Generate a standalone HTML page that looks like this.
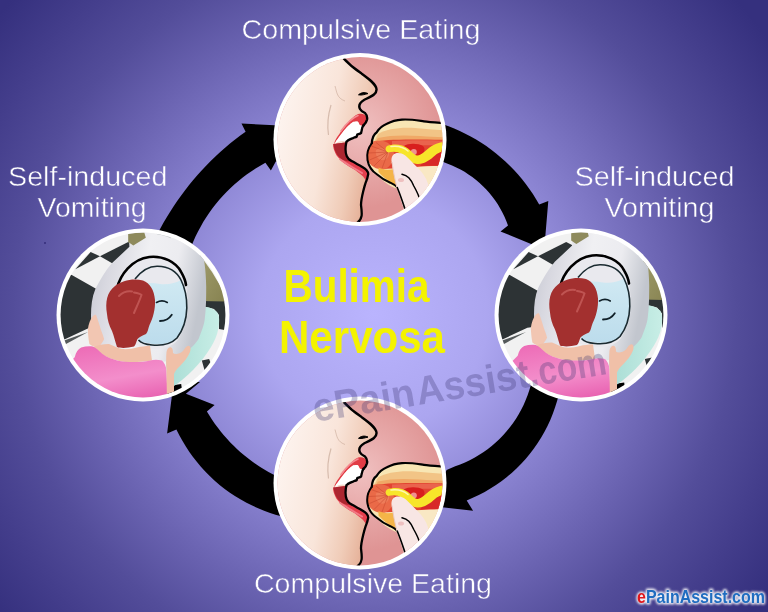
<!DOCTYPE html>
<html><head><meta charset="utf-8">
<style>
html,body{margin:0;padding:0;width:768px;height:612px;overflow:hidden;background:#5a52a8}
svg{display:block;will-change:transform}
text{font-family:"Liberation Sans",sans-serif}
</style></head>
<body>
<svg width="768" height="612" viewBox="0 0 768 612">
<defs>
  <radialGradient id="bg" cx="374" cy="314" r="480" gradientUnits="userSpaceOnUse">
    <stop offset="0.0000" stop-color="#bab4fe"/>
    <stop offset="0.2375" stop-color="#aca6f0"/>
    <stop offset="0.4167" stop-color="#8d86d4"/>
    <stop offset="0.6250" stop-color="#6962b0"/>
    <stop offset="0.7542" stop-color="#534d9a"/>
    <stop offset="0.8750" stop-color="#443e8c"/>
    <stop offset="1.0000" stop-color="#35307e"/>
  </radialGradient>
  <radialGradient id="pinkbg" gradientUnits="userSpaceOnUse" cx="362" cy="128" r="80">
    <stop offset="0" stop-color="#f0c0c0"/>
    <stop offset="0.45" stop-color="#e8abab"/>
    <stop offset="1" stop-color="#df9494"/>
  </radialGradient>
  <linearGradient id="skin" gradientUnits="userSpaceOnUse" x1="280" y1="120" x2="376" y2="140">
    <stop offset="0" stop-color="#fdf3ee"/>
    <stop offset="0.5" stop-color="#f9e5da"/>
    <stop offset="0.8" stop-color="#f0ccb8"/>
    <stop offset="1" stop-color="#e6b29a"/>
  </linearGradient>
  <filter id="glow" x="-10%" y="-50%" width="120%" height="200%"><feGaussianBlur stdDeviation="1.3"/></filter>
  <clipPath id="cE"><circle cx="360" cy="139.5" r="82.4"/></clipPath>
  <linearGradient id="bowl" x1="0" y1="0.1" x2="1" y2="0.35">
    <stop offset="0" stop-color="#c4c6d0"/>
    <stop offset="0.2" stop-color="#d8d8e0"/>
    <stop offset="0.5" stop-color="#f0f0f3"/>
    <stop offset="0.75" stop-color="#ececf0"/>
    <stop offset="1" stop-color="#c2c6ce"/>
  </linearGradient>
  <linearGradient id="water" x1="0" y1="0" x2="0" y2="1">
    <stop offset="0" stop-color="#d4ecf4"/>
    <stop offset="1" stop-color="#bcdcec"/>
  </linearGradient>
  <linearGradient id="olive" x1="0" y1="0" x2="1" y2="1">
    <stop offset="0" stop-color="#a09c6c"/>
    <stop offset="1" stop-color="#85814f"/>
  </linearGradient>
  <linearGradient id="mint" x1="0" y1="0" x2="1" y2="0">
    <stop offset="0" stop-color="#a8dcd4"/>
    <stop offset="1" stop-color="#c8eee6"/>
  </linearGradient>
  <linearGradient id="shirt" x1="0" y1="0" x2="0.3" y2="1">
    <stop offset="0" stop-color="#ec68b4"/>
    <stop offset="0.6" stop-color="#f38ecb"/>
    <stop offset="1" stop-color="#e860b0"/>
  </linearGradient>
  <clipPath id="cV"><circle cx="143" cy="315" r="82.4"/></clipPath>
  <clipPath id="cV2"><circle cx="581" cy="315" r="82.4"/></clipPath>
</defs>
<rect width="768" height="612" fill="url(#bg)"/>

<circle cx="45" cy="243" r="1" fill="#2a2470" opacity="0.8"/>
<!-- ring arrows -->
<g fill="#000">
<path d="M148.9,252.4 L151.5,246.4 L154.3,240.5 L157.1,234.6 L160.2,228.8 L163.3,223.1 L166.6,217.5 L170.0,211.9 L173.5,206.4 L177.2,201.0 L181.0,195.7 L184.9,190.5 L188.9,185.3 L193.0,180.3 L197.3,175.3 L201.6,170.5 L206.1,165.7 L210.7,161.1 L215.4,156.6 L220.2,152.1 L225.1,147.8 L230.0,143.6 L235.1,139.5 L240.3,135.5 L245.6,131.7 L241.5,123.5 L274.6,125.3 L292.0,130.0 L292.0,160.0 L275.8,161.4 L270.9,170.6 L265.4,162.7 L260.7,165.4 L256.0,168.2 L251.5,171.2 L247.0,174.3 L242.7,177.6 L238.5,181.0 L234.3,184.5 L230.3,188.2 L226.5,192.1 L222.7,196.0 L219.1,200.1 L215.6,204.3 L212.3,208.6 L209.1,213.0 L206.1,217.5 L203.2,222.1 L200.5,226.9 L197.9,231.7 L195.5,236.5 L193.3,241.5 L191.2,246.5 L189.3,251.6 L187.5,256.8 L186.0,262.0 Z"/>
<path d="M425.2,119.3 L431.1,120.7 L437.0,122.4 L442.8,124.2 L448.6,126.3 L454.2,128.6 L459.8,131.0 L465.3,133.7 L470.7,136.5 L476.1,139.5 L481.3,142.7 L486.3,146.1 L491.3,149.7 L496.1,153.5 L500.8,157.4 L505.4,161.5 L509.8,165.7 L514.0,170.1 L518.1,174.6 L522.1,179.3 L525.8,184.1 L529.4,189.0 L532.9,194.1 L536.1,199.3 L539.2,204.5 L548.3,201.0 L545.0,240.0 L545.0,262.0 L520.0,262.0 L533.5,245.0 L500.5,231.4 L508.0,225.4 L506.3,221.0 L504.5,216.7 L502.4,212.5 L500.2,208.4 L497.8,204.3 L495.2,200.4 L492.4,196.7 L489.4,193.0 L486.3,189.5 L483.0,186.2 L479.6,183.0 L476.1,179.9 L472.3,177.1 L468.5,174.4 L464.6,171.8 L460.5,169.5 L456.3,167.4 L452.1,165.4 L447.7,163.7 L443.3,162.1 L438.8,160.8 L434.2,159.6 L429.6,158.7 L425.0,158.0 Z"/>
<path d="M561.2,381.9 L560.1,388.4 L558.7,394.9 L557.0,401.3 L555.0,407.6 L552.8,413.8 L550.3,419.9 L547.5,425.9 L544.5,431.8 L541.2,437.5 L537.7,443.1 L533.9,448.5 L529.9,453.8 L525.6,458.9 L521.2,463.8 L516.5,468.5 L511.7,472.9 L506.6,477.2 L501.4,481.2 L496.0,485.0 L490.4,488.6 L484.7,491.9 L478.8,495.0 L472.8,497.8 L466.7,500.4 L473.1,510.8 L444.4,507.5 L425.0,505.0 L425.0,478.0 L444.0,476.0 L446.6,470.0 L455.2,466.3 L460.2,464.4 L465.0,462.4 L469.7,460.2 L474.4,457.7 L478.9,455.1 L483.3,452.2 L487.6,449.2 L491.7,445.9 L495.7,442.5 L499.5,438.9 L503.1,435.2 L506.6,431.3 L509.9,427.2 L513.1,423.0 L516.0,418.7 L518.7,414.2 L521.3,409.6 L523.6,404.9 L525.7,400.1 L527.6,395.2 L529.3,390.3 L530.8,385.2 L532.0,380.2 L533.1,375.0 Z"/>
<path d="M295.1,519.2 L288.8,518.0 L282.5,516.5 L276.3,514.9 L270.1,512.9 L264.1,510.7 L258.1,508.3 L252.2,505.6 L246.5,502.7 L240.8,499.6 L235.3,496.3 L229.9,492.7 L224.7,488.9 L219.6,484.9 L214.7,480.7 L210.0,476.3 L205.5,471.8 L201.1,467.0 L197.0,462.1 L193.0,457.0 L189.2,451.7 L185.7,446.3 L182.4,440.8 L179.3,435.2 L176.4,429.4 L167.1,433.6 L171.6,398.2 L172.0,382.0 L200.0,382.0 L185.9,393.8 L214.6,404.9 L206.9,411.5 L209.4,415.6 L212.1,419.7 L214.8,423.7 L217.7,427.6 L220.7,431.5 L223.8,435.2 L227.0,438.8 L230.3,442.4 L233.7,445.8 L237.2,449.2 L240.8,452.4 L244.5,455.6 L248.3,458.6 L252.2,461.5 L256.1,464.3 L260.2,467.0 L264.3,469.6 L268.5,472.0 L272.8,474.3 L277.1,476.5 L281.5,478.6 L286.0,480.5 L290.5,482.3 L295.0,483.9 Z"/>
</g>

<!-- eating circle -->
<g id="eat">
  <circle cx="360" cy="139.5" r="86.5" fill="#fff"/>
  <g clip-path="url(#cE)">
    <rect x="270" y="50" width="180" height="180" fill="url(#pinkbg)"/>
    <!-- face skin -->
    <path d="M270,50 L338,50 C342,57 350,66 361.6,73.6 C369,79 376,84 376.5,89 C377,94 372,96 364,100 C359,103 358.5,106 361,110 C364,113 366,116 366.5,119 L362,124 L346,141 L346,160 L367,177 C364,186 360,196 361,205 C362,213 363,219 357,223 L270,230 Z" fill="url(#skin)"/>
    <!-- cheek lines -->
    <path d="M335,86 C337,93 337,98 345,101" fill="none" stroke="#c8a898" stroke-width="1" opacity="0.6"/>
    <path d="M331,105 C328,115 327,125 328.5,135" fill="none" stroke="#c0a090" stroke-width="1.2" opacity="0.6"/>
    <!-- lower lip + mouth -->
    <path d="M333,144 L347.6,142.3 C345.5,146 345,152 346.8,156.2 C348,159 349.5,160 351.7,161.1 C355,163 358,164.5 360.7,166 C363,167.5 365,168.5 366.4,170.1 C368,172 368.5,174 368,175 C367.5,178 367,179.5 366.4,180.7 C365,179 364,178 363.1,176.6 C359,173 356,170.5 352.5,168.5 C348,166 345,164 342.7,162 C339,158.5 336.5,156 335.3,153 C334,150 333,147.5 333,144 Z" fill="#e4404e"/>
    <path d="M340,159 C346,164 354,168 362,173" fill="none" stroke="#f27a86" stroke-width="2" stroke-linecap="round"/>
    <path d="M333.5,144 L347.6,142.3 C345.5,146 345,152 346.8,156.2 C348,159 349.5,160.5 351,161.5 C347,162 343,160.5 340,158 C336,154.5 334,149 333.5,144 Z" fill="#ac2630"/>
    <!-- upper lip -->
    <path d="M333.9,144 C335,140 337,137 339,134.4 C341,131 344,128 346.4,124.9 C349,121.5 351,119 353.8,116.8 C356,115 357.5,114 359.6,113.8 C361.5,113.6 363,113.8 364,114.6 C365.5,115.5 366.5,116.5 366.3,118.2 C366.3,120 366,121.5 365.5,122.7 C364.5,124 363.5,125 362.6,125.6 L362.6,126.3 C361,125.5 360.5,125 359.6,124.9 C358.5,122.5 358,121.6 357.4,121.6 C355,121.6 354,121.9 353,121.9 C351,123 350,124.5 348.6,125.6 C346,128 344.5,130 342.7,132.2 C340,135.5 338,138.5 336.1,141.1 Z" fill="#e23c46"/>
    <path d="M341,131 C346,124 352,118 358,115.5" fill="none" stroke="#f48a90" stroke-width="1.6" stroke-linecap="round"/>
    <!-- teeth -->
    <path d="M336.1,141.1 C338,138.5 340,135.5 342.7,132.2 C344.5,130 346,128 348.6,125.6 C350,124.5 351,123 353,121.9 C354,121.9 355,121.6 357.4,121.6 C358,121.6 358.5,122.5 359.6,124.9 C360.5,125 361,125.5 362.6,126.3 C362,128 361.8,129 361.8,130 C361.5,131 361.3,132 361.1,133 C360,133.8 358.5,134 357.4,134.4 C357,135 356.9,136 356.7,136.6 C355.5,137.2 354,137.6 353,138.1 C351.5,138.6 350.5,139 349.3,139.6 C348,140.2 347.5,141 346.4,141.8 C345,141.5 344,141.2 342.7,141.1 C341,141.3 339.5,141.5 338.3,141.8 C337,142.5 336,143.2 335.4,144 Z" fill="#fff"/>
    <!-- inner mouth contour -->
    <path d="M364,124.5 C362.5,126.5 362,128 361.8,130 C361.5,131 361.3,132 361.1,133 C360,133.8 358.5,134 357.4,134.4 C357,135 356.9,136 356.7,136.6 C355.5,137.2 354,137.6 353,138.1 C351.5,138.6 350.5,139 349.3,139.6 C348,140.2 347.5,141 346.4,141.8 C345.5,146 345,152 346.8,156.2 C348,159 349.5,160 351.7,161.1 C355,163 358,164.5 360.7,166 C363,167.5 365,168.5 366.4,170.1 C368,172 368.5,174 368,175 C367.5,178 367,179.5 366.4,180.7 C365,184 361,198 361,205 C362,213 363,219 357,223" fill="none" stroke="#000" stroke-width="2.3" stroke-linejoin="round"/>
    <!-- profile line -->
    <path d="M338,52 C342,57 350,66 361.6,73.6 C369,79 376,84 376.5,89 C377,94 372,96 364,100 C359,103 358.5,106 360,109 C361,111 363,112 365,113 C367,115 367.5,117 367,119.7 C366.5,122 365,124 363.3,125.6" fill="none" stroke="#000" stroke-width="2.4" stroke-linecap="round"/>
    <path d="M358.5,94.8 C361,92.6 364.5,91.8 368,93.6 C365,94.2 362,95.6 358.5,94.8 Z" fill="#000" stroke="#000" stroke-width="1" stroke-linejoin="round"/>
    <!-- hot dog bun (top) -->
    <path d="M371.7,144 C372,138 374,134 376.8,132.2 C380,127 384,125 386.9,123.8 C392,121 396,120 402,119.6 C410,119 418,120.5 423.9,121.3 C430,122 436,122.5 452,124 L452,200 L395,188 C385,184 372,172 368,162 Z" fill="#f8e6b4"/>
    <path d="M378,134 C386,129 400,127 415,128 C428,129 440,130 452,131 L452,140 L374,142 Z" fill="#f2c486"/>
    <path d="M378,138 C390,135 405,135 420,136 C432,137 444,137 452,138 L452,143 L375,143 Z" fill="#f0a866"/>
    <!-- sausage body -->
    <path d="M373,142 C385,139 410,139 452,140 L452,166 C430,166 405,168 382,169 C374,168 368,163 367.5,156 C367.5,150 370,145 373,142 Z" fill="#e24432"/>
    <path d="M392,141 C410,140 430,140 452,141 L452,146 C430,145 410,145 392,147 Z" fill="#ee7058" opacity="0.7"/>
    <!-- sausage end -->
    <path d="M372,142 C369,146 367,150 367,156 C367.5,163 373,169 382,169.5 C389,169 393,163 394,155 C394,148 390,142.5 383,141 C378,140.5 374,141 372,142 Z" fill="#ea6a48"/>
    <path d="M376,150 C380,147 386,148 389,152 C390,157 386,161 381,160 C377,159 375,154 376,150 Z" fill="#f08866" opacity="0.6"/>
    <path d="M388,152 L371,146 M388,152 L368.5,153 M388,152 L369.5,160 M388,152 L374,166 M388,152 L382,168.5 M388,152 L376,142.5" stroke="#c94a30" stroke-width="0.7" fill="none" opacity="0.8"/>
    <!-- ketchup -->
    <path d="M404,146 C408,143 418,143 423,146 C426,149 424,154 420,156 C414,158 407,156 404,152 Z" fill="#d81e1e"/>
    <path d="M432,152 L452,148 L452,165 L420,166 Z" fill="#d82828"/>
    <circle cx="413.8" cy="152" r="3" fill="#f09090"/>
    <!-- mustard -->
    <path d="M387,146 C394,143.5 402,144 408,148.5 C412,151.5 414,155 417,155.5 C421,156 426,150 431,146.5 C436,143 442,141.5 452,141.5 L452,150 C444,150.5 439,152 435,155.5 C430,160 424,164.5 417,164 C410,163.5 406,158 402,154.5 C397,151 393,151.5 388,152.5 C385,151 385,148 387,146 Z" fill="#f7e52a"/>
    <path d="M391,146.5 C398,145.5 404,147.5 408,151" fill="none" stroke="#fdf8b0" stroke-width="1.6" stroke-linecap="round"/>
    <!-- lower bun -->
    <path d="M378.5,167.6 C384,170 388,170 395,169 L405,168 L398,186 C392,184 384,178 378.5,172 Z" fill="#f4b448"/>
    <path d="M407,167.5 C420,166.5 432,166 452,165.5 L452,200 L420,195 Z" fill="#f9e8c4"/>
    <!-- bun outlines -->
    <path d="M371.7,144 C372,138 374,134 376.8,132.2 C380,127 384,125 386.9,123.8 C392,121 396,120 402,119.6 C410,119 418,120.5 423.9,121.3 C430,122 436,122.5 452,124" fill="none" stroke="#000" stroke-width="2.2"/>
    <path d="M372,143 C368,148 366.5,154 367.5,160 C368.5,166 372,171 376.8,174.3 C381,178 386,181 390.3,182.7 C393,184 395,185 397,187" fill="none" stroke="#000" stroke-width="2"/>
    <!-- finger -->
    <path d="M391.5,161 C391,156 394,153 398,153 C402,153 405,155 407,157 C411,161 414,164 418,168 C422,172 426,177 428,184 C431,192 434,205 436,230 L410,230 C406,215 401,200 397,188 C395,180 393,170 391.5,161 Z" fill="#f8e6e4"/>
    <path d="M392,162 C393,170 395,180 397,188 C400,196 403,204 405,212" fill="none" stroke="#e8c8c0" stroke-width="1"/>
    <path d="M402,174.3 C405,175 407,176 408.8,177.7 C411,180 413,184 413.8,186 C416,190 418,194 419,197" fill="none" stroke="#000" stroke-width="1.5" stroke-linecap="round"/>
    <ellipse cx="401" cy="180" rx="3" ry="2" fill="#eec0c0"/>
    <path d="M397,187 C400,194 402,200 404,206 C406,212 407,216 409,222" fill="none" stroke="#000" stroke-width="1.6"/>
  </g>
</g>
<use href="#eat" transform="translate(0,343.5)"/>

<!-- vomit circle -->
<defs><g id="vomf">
    <rect x="50" y="220" width="190" height="190" fill="#f1f1f1"/>
    <!-- dark tiles -->
    <path d="M75.3,269.2 L90.6,252.1 L100,256.2 Z" fill="#2d3335"/>
    <path d="M100,256.2 L128.2,242.1 L134,245 L135,250 L117,266 Z" fill="#2d3335"/>
    <path d="M50,270 L71.8,275.1 L100,291 L100,318 L95,327 L89.4,327.8 L64.9,339.2 L50,342 Z" fill="#2d3335"/>
    <path d="M60,342 L88,332 L66,344 Z" fill="#2d3335" opacity="0.8"/>
</g><g id="vomc">    <!-- right tiles -->
    <path d="M198,300 L230,300 L230,331 L219,329 L219,315 L214,309 L206,307 L198,306 Z" fill="#2d3335"/>
    <path d="M201.8,360.5 L209.1,359 L212,366.4 L204.7,370.8 Z" fill="#2d3335"/>
    <path d="M168,386 L181.2,384 L182.6,394.4 L178,410 L165,410 Z" fill="#000"/>
    <path d="M200,255 L212,272 L225.3,294.2 L228,301.5 L200,301 Z" fill="url(#olive)"/>
    <!-- mint seat -->
    <path d="M196,307 L206,307 C210,307.5 214,309 217,312 C219.5,315 219.5,320 218.5,328 C217,336 214,342 211,347 C206,355 200,363 193,370 C187,376 180,382 174,386 L168,388 L166,360 Z" fill="url(#mint)"/>
    <!-- bowl -->
    <path d="M129.4,246.8 L111.8,263.3 C106,270 100,280 95.3,289.2 C92,297 91,306 91,316 C91,330 95,345 108,356 C125,365 160,365 173.8,359 C180,356 185,353 188.5,350.2 C194,345 197,342 198.8,338.5 C202,330 204,325 204.7,319.4 C206,310 206.2,300 206.2,286.8 C206,278 205.5,270 204.7,264.8 C204,258 203,253 201.8,250 L200,220 L128,220 Z" fill="url(#bowl)"/>
    <path d="M128.2,233.4 L144.3,232.5 L145.8,237.7 L133.3,245.6 L128.2,242.1 Z" fill="#8e8a5c"/>
    <path d="M156.8,233.7 C162,234.5 166,235.5 170.8,237.7" fill="none" stroke="#9aa0a0" stroke-width="1" opacity="0.6"/>
    <!-- rim inner -->
    <path d="M117,288 C122,272 135,258 149.3,257 C165,256 178,263 185.6,283.9 C190,300 186,330 176,342 C165,352 145,350 130,342 C120,330 113,305 117,288 Z" fill="#e9e9ee"/>
    <!-- water -->
    <path d="M135,279 C142,270 150,266 157.6,266.2 C168,266.5 176,270 181,280 C186,290 187,300 186.5,310 C185,322 182,332 176,338.5 C170,344 160,345 152,344 C145,343 140,341 138.5,340 C128,330 126,300 135,279 Z" fill="url(#water)"/>
    <path d="M135,279 C142,270 150,266 157.6,266.2 C168,266.5 176,270 181,280 C176,283 168,285 160,284 C152,283 145,282 135,286 Z" fill="#e9e9ee"/>
    <!-- outlines -->
    <path d="M117,288.5 C120,275 132,259 149.3,257 C163,255.5 176,262 181.2,272.1 C184,277 185.6,281 186,285" fill="none" stroke="#000" stroke-width="2.6" stroke-linecap="round"/>
    <path d="M135,279 C142,270 150,266 157.6,266.2 C168,266.5 176,270 181,280 C185,288 187,298 186.8,308 C186.5,320 183,330 177,338 C171,344 162,346 152,345 C146,344.5 141,343 138.5,340" fill="none" stroke="#1a2a30" stroke-width="1.6"/>
    <!-- hair -->
    <path d="M107,314 C105,302 107,292 115,286 C122,281 132,278 143,280.5 C150,283 154,290 155,300 C155.5,309 153,318 149.5,325 C148,329 148,332 146,334 C142,336 139,337 137.5,339 C136,342 136,345 134,346.5 C128,348 121,348.5 117,347 C115,341 114,336 112,331 C109,325 107.5,320 107,314 Z" fill="#a3302f"/>
    <path d="M119,296 C123,292 128,291 132,291.5 M134,292.5 C137,293 140,293.5 141.5,295 C139.5,301 136.5,307 134,313" fill="none" stroke="#c45a58" stroke-width="2" stroke-linecap="round" opacity="0.85"/>
    <!-- eyes -->
    <path d="M156.5,302.5 C160,300.5 164,300.5 167.3,302.5" fill="none" stroke="#102028" stroke-width="1.6" stroke-linecap="round"/>
    <path d="M160,321 C164,321 169,319 171.8,314.7" fill="none" stroke="#102028" stroke-width="1.8" stroke-linecap="round"/>
    <!-- left hand -->
    <path d="M92.7,316.3 C93.5,315 95,314.5 96,314.7 C98,320 99.5,325 100.8,329.4 C102,333 103.5,336 104.1,339.2 C102,343 100,346 97.6,347.4 C94,347 91.5,346 89.4,344.1 C88.5,339 88,334 87.8,329.4 C88.5,324 90.5,319 92.7,316.3 Z" fill="#f2c6b2"/>
    <!-- neck -->
    <path d="M92.7,347.4 C98,345 104,344 109,344.1 C114,346 118,348.5 122,349 C128,349.5 132,348.5 136.8,347.4 C141,346.5 145,346 150,345.7 L152,360.4 C143,361.5 133,362.5 125.3,362.1 C117,361 110,358.5 104.1,355.5 C100,352.5 96,350 92.7,347.4 Z" fill="#f0c0a8"/>
    <!-- shirt -->
    <path d="M74.7,357.2 C76,352 78,349 81.2,347.4 C85,346.5 89,346 92.7,346.6 C96,348 99,351 102.5,353.9 C107,357 112,359 117.2,360.4 C122,361.5 128,362 133.5,362.1 C140,362 146,361.5 150,360.4 C154,359.5 158,359.5 162,360.5 C164.5,363 166,366 166.5,370.8 L168,410 L60,410 L62,370 Z" fill="url(#shirt)"/>
    <!-- right hand -->
    <path d="M166.5,352 C167,349 169,347 170.9,347.3 C172.5,348 173,350 173,353 C175,355 180,354 183,351 C185,348 186.5,346 188.5,345.8 C190.5,346 191,349 190,352 C188,357 184,362 180,366 C177,369 175,371 174,374 L174,410 L167,410 L166.5,370 C166,364 166,357 166.5,352 Z" fill="#f0c0a8"/>
  </g></defs>
<circle cx="143" cy="315" r="86.5" fill="#fff"/>
<g clip-path="url(#cV)"><use href="#vomf"/><use href="#vomc"/></g>
<circle cx="581" cy="315" r="86.5" fill="#fff"/>
<g clip-path="url(#cV2)"><use href="#vomf" transform="translate(438,0)"/><use href="#vomc" transform="translate(443,-1.5)"/></g>

<!-- labels -->
<g fill="#fff" font-size="28" stroke="url(#bg)" stroke-width="0.5">
  <text x="241.5" y="39" textLength="239" lengthAdjust="spacingAndGlyphs">Compulsive Eating</text>
  <text x="254" y="592.5" textLength="238" lengthAdjust="spacingAndGlyphs">Compulsive Eating</text>
  <text x="8" y="185.5" textLength="159.5" lengthAdjust="spacingAndGlyphs">Self-induced</text>
  <text x="37.5" y="217" textLength="109" lengthAdjust="spacingAndGlyphs">Vomiting</text>
  <text x="574.5" y="185.5" textLength="160" lengthAdjust="spacingAndGlyphs">Self-induced</text>
  <text x="604.5" y="217" textLength="110" lengthAdjust="spacingAndGlyphs">Vomiting</text>
</g>
<g fill="#f4f300" font-size="45.5" font-weight="bold">
  <text x="283.5" y="301.5" textLength="146" lengthAdjust="spacingAndGlyphs">Bulimia</text>
  <text x="279" y="353" textLength="166" lengthAdjust="spacingAndGlyphs">Nervosa</text>
</g>
<!-- watermark -->
<g transform="translate(315,422) rotate(-9.3)" font-size="40" font-weight="bold" fill="#3c3670" fill-opacity="0.3"><text x="0" y="0" textLength="103" lengthAdjust="spacingAndGlyphs">ePain</text><text x="105" y="0" textLength="114" lengthAdjust="spacingAndGlyphs">Assist</text><text x="219" y="0" textLength="78" lengthAdjust="spacingAndGlyphs">.com</text></g>
<!-- logo -->
<g font-size="19" font-weight="bold">
<text x="637" y="603.4" textLength="128" lengthAdjust="spacingAndGlyphs" fill="#fff" stroke="#fff" stroke-width="3" stroke-linejoin="round" filter="url(#glow)" opacity="0.9">ePainAssist.com</text>
<text x="637" y="603.4" textLength="128" lengthAdjust="spacingAndGlyphs" fill="#1f6cc0"><tspan fill="#e0161c">e</tspan>PainAssist.com</text>
</g>
</svg>
</body></html>
